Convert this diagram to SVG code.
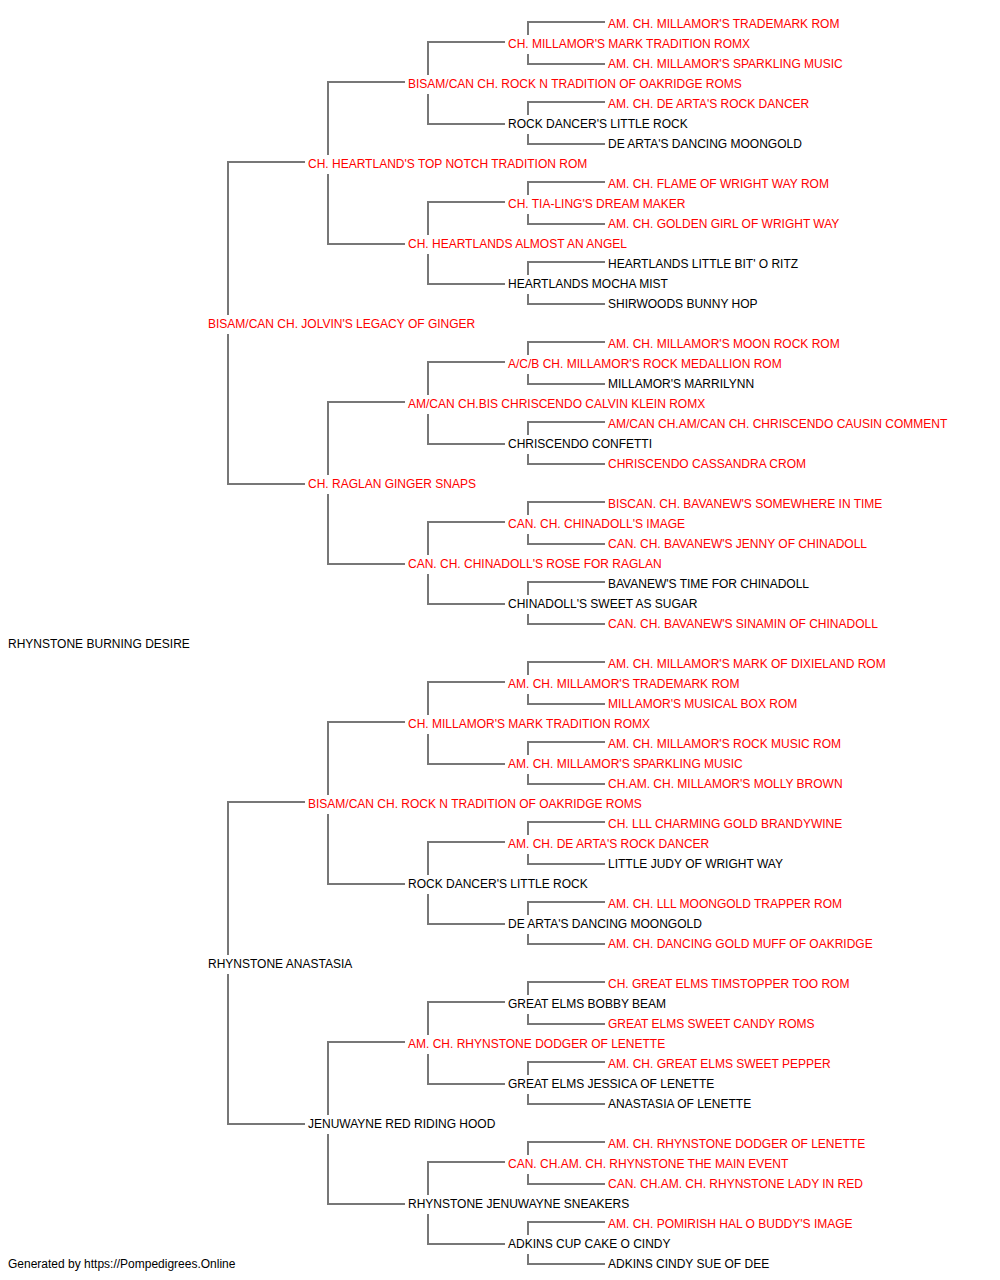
<svg xmlns="http://www.w3.org/2000/svg" width="1000" height="1280" viewBox="0 0 1000 1280">
<style>
text{font-family:"Liberation Sans",Arial,sans-serif;font-size:12px}
.r{fill:#ff0000}
.b{fill:#000000}
.c{fill:none;stroke:#777777;stroke-width:2}
</style>
<rect width="1000" height="1280" fill="#ffffff"/>
<g id="connectors" class="c">
<path d="M305 162H228V315M228 334V484H305"/>
<path d="M305 802H228V955M228 974V1124H305"/>
<path d="M405 82H328V155M328 174V244H405"/>
<path d="M405 402H328V475M328 494V564H405"/>
<path d="M405 722H328V795M328 814V884H405"/>
<path d="M405 1042H328V1115M328 1134V1204H405"/>
<path d="M505 42H428V75M428 94V124H505"/>
<path d="M505 202H428V235M428 254V284H505"/>
<path d="M505 362H428V395M428 414V444H505"/>
<path d="M505 522H428V555M428 574V604H505"/>
<path d="M505 682H428V715M428 734V764H505"/>
<path d="M505 842H428V875M428 894V924H505"/>
<path d="M505 1002H428V1035M428 1054V1084H505"/>
<path d="M505 1162H428V1195M428 1214V1244H505"/>
<path d="M605 22H528V35M528 54V64H605"/>
<path d="M605 102H528V115M528 134V144H605"/>
<path d="M605 182H528V195M528 214V224H605"/>
<path d="M605 262H528V275M528 294V304H605"/>
<path d="M605 342H528V355M528 374V384H605"/>
<path d="M605 422H528V435M528 454V464H605"/>
<path d="M605 502H528V515M528 534V544H605"/>
<path d="M605 582H528V595M528 614V624H605"/>
<path d="M605 662H528V675M528 694V704H605"/>
<path d="M605 742H528V755M528 774V784H605"/>
<path d="M605 822H528V835M528 854V864H605"/>
<path d="M605 902H528V915M528 934V944H605"/>
<path d="M605 982H528V995M528 1014V1024H605"/>
<path d="M605 1062H528V1075M528 1094V1104H605"/>
<path d="M605 1142H528V1155M528 1174V1184H605"/>
<path d="M605 1222H528V1235M528 1254V1264H605"/>
</g>
<g id="n0"><text class="r" x="608" y="28">AM. CH. MILLAMOR'S TRADEMARK ROM</text></g>
<g id="n1"><text class="r" x="508" y="48">CH. MILLAMOR'S MARK TRADITION ROMX</text></g>
<g id="n2"><text class="r" x="608" y="68">AM. CH. MILLAMOR'S SPARKLING MUSIC</text></g>
<g id="n3"><text class="r" x="408" y="88">BISAM/CAN CH. ROCK N TRADITION OF OAKRIDGE ROMS</text></g>
<g id="n4"><text class="r" x="608" y="108">AM. CH. DE ARTA'S ROCK DANCER</text></g>
<g id="n5"><text class="b" x="508" y="128">ROCK DANCER'S LITTLE ROCK</text></g>
<g id="n6"><text class="b" x="608" y="148">DE ARTA'S DANCING MOONGOLD</text></g>
<g id="n7"><text class="r" x="308" y="168">CH. HEARTLAND'S TOP NOTCH TRADITION ROM</text></g>
<g id="n8"><text class="r" x="608" y="188">AM. CH. FLAME OF WRIGHT WAY ROM</text></g>
<g id="n9"><text class="r" x="508" y="208">CH. TIA-LING'S DREAM MAKER</text></g>
<g id="n10"><text class="r" x="608" y="228">AM. CH. GOLDEN GIRL OF WRIGHT WAY</text></g>
<g id="n11"><text class="r" x="408" y="248">CH. HEARTLANDS ALMOST AN ANGEL</text></g>
<g id="n12"><text class="b" x="608" y="268">HEARTLANDS LITTLE BIT' O RITZ</text></g>
<g id="n13"><text class="b" x="508" y="288">HEARTLANDS MOCHA MIST</text></g>
<g id="n14"><text class="b" x="608" y="308">SHIRWOODS BUNNY HOP</text></g>
<g id="n15"><text class="r" x="208" y="328">BISAM/CAN CH. JOLVIN'S LEGACY OF GINGER</text></g>
<g id="n16"><text class="r" x="608" y="348">AM. CH. MILLAMOR'S MOON ROCK ROM</text></g>
<g id="n17"><text class="r" x="508" y="368">A/C/B CH. MILLAMOR'S ROCK MEDALLION ROM</text></g>
<g id="n18"><text class="b" x="608" y="388">MILLAMOR'S MARRILYNN</text></g>
<g id="n19"><text class="r" x="408" y="408">AM/CAN CH.BIS CHRISCENDO CALVIN KLEIN ROMX</text></g>
<g id="n20"><text class="r" x="608" y="428">AM/CAN CH.AM/CAN CH. CHRISCENDO CAUSIN COMMENT</text></g>
<g id="n21"><text class="b" x="508" y="448">CHRISCENDO CONFETTI</text></g>
<g id="n22"><text class="r" x="608" y="468">CHRISCENDO CASSANDRA CROM</text></g>
<g id="n23"><text class="r" x="308" y="488">CH. RAGLAN GINGER SNAPS</text></g>
<g id="n24"><text class="r" x="608" y="508">BISCAN. CH. BAVANEW'S SOMEWHERE IN TIME</text></g>
<g id="n25"><text class="r" x="508" y="528">CAN. CH. CHINADOLL'S IMAGE</text></g>
<g id="n26"><text class="r" x="608" y="548">CAN. CH. BAVANEW'S JENNY OF CHINADOLL</text></g>
<g id="n27"><text class="r" x="408" y="568">CAN. CH. CHINADOLL'S ROSE FOR RAGLAN</text></g>
<g id="n28"><text class="b" x="608" y="588">BAVANEW'S TIME FOR CHINADOLL</text></g>
<g id="n29"><text class="b" x="508" y="608">CHINADOLL'S SWEET AS SUGAR</text></g>
<g id="n30"><text class="r" x="608" y="628">CAN. CH. BAVANEW'S SINAMIN OF CHINADOLL</text></g>
<g id="n31"><text class="b" x="8" y="648">RHYNSTONE BURNING DESIRE</text></g>
<g id="n32"><text class="r" x="608" y="668">AM. CH. MILLAMOR'S MARK OF DIXIELAND ROM</text></g>
<g id="n33"><text class="r" x="508" y="688">AM. CH. MILLAMOR'S TRADEMARK ROM</text></g>
<g id="n34"><text class="r" x="608" y="708">MILLAMOR'S MUSICAL BOX ROM</text></g>
<g id="n35"><text class="r" x="408" y="728">CH. MILLAMOR'S MARK TRADITION ROMX</text></g>
<g id="n36"><text class="r" x="608" y="748">AM. CH. MILLAMOR'S ROCK MUSIC ROM</text></g>
<g id="n37"><text class="r" x="508" y="768">AM. CH. MILLAMOR'S SPARKLING MUSIC</text></g>
<g id="n38"><text class="r" x="608" y="788">CH.AM. CH. MILLAMOR'S MOLLY BROWN</text></g>
<g id="n39"><text class="r" x="308" y="808">BISAM/CAN CH. ROCK N TRADITION OF OAKRIDGE ROMS</text></g>
<g id="n40"><text class="r" x="608" y="828">CH. LLL CHARMING GOLD BRANDYWINE</text></g>
<g id="n41"><text class="r" x="508" y="848">AM. CH. DE ARTA'S ROCK DANCER</text></g>
<g id="n42"><text class="b" x="608" y="868">LITTLE JUDY OF WRIGHT WAY</text></g>
<g id="n43"><text class="b" x="408" y="888">ROCK DANCER'S LITTLE ROCK</text></g>
<g id="n44"><text class="r" x="608" y="908">AM. CH. LLL MOONGOLD TRAPPER ROM</text></g>
<g id="n45"><text class="b" x="508" y="928">DE ARTA'S DANCING MOONGOLD</text></g>
<g id="n46"><text class="r" x="608" y="948">AM. CH. DANCING GOLD MUFF OF OAKRIDGE</text></g>
<g id="n47"><text class="b" x="208" y="968">RHYNSTONE ANASTASIA</text></g>
<g id="n48"><text class="r" x="608" y="988">CH. GREAT ELMS TIMSTOPPER TOO ROM</text></g>
<g id="n49"><text class="b" x="508" y="1008">GREAT ELMS BOBBY BEAM</text></g>
<g id="n50"><text class="r" x="608" y="1028">GREAT ELMS SWEET CANDY ROMS</text></g>
<g id="n51"><text class="r" x="408" y="1048">AM. CH. RHYNSTONE DODGER OF LENETTE</text></g>
<g id="n52"><text class="r" x="608" y="1068">AM. CH. GREAT ELMS SWEET PEPPER</text></g>
<g id="n53"><text class="b" x="508" y="1088">GREAT ELMS JESSICA OF LENETTE</text></g>
<g id="n54"><text class="b" x="608" y="1108">ANASTASIA OF LENETTE</text></g>
<g id="n55"><text class="b" x="308" y="1128">JENUWAYNE RED RIDING HOOD</text></g>
<g id="n56"><text class="r" x="608" y="1148">AM. CH. RHYNSTONE DODGER OF LENETTE</text></g>
<g id="n57"><text class="r" x="508" y="1168">CAN. CH.AM. CH. RHYNSTONE THE MAIN EVENT</text></g>
<g id="n58"><text class="r" x="608" y="1188">CAN. CH.AM. CH. RHYNSTONE LADY IN RED</text></g>
<g id="n59"><text class="b" x="408" y="1208">RHYNSTONE JENUWAYNE SNEAKERS</text></g>
<g id="n60"><text class="r" x="608" y="1228">AM. CH. POMIRISH HAL O BUDDY'S IMAGE</text></g>
<g id="n61"><text class="b" x="508" y="1248">ADKINS CUP CAKE O CINDY</text></g>
<g id="n62"><text class="b" x="608" y="1268">ADKINS CINDY SUE OF DEE</text></g>
<g id="footer"><text class="b" x="8" y="1268">Generated by https://Pompedigrees.Online</text></g>
</svg>
